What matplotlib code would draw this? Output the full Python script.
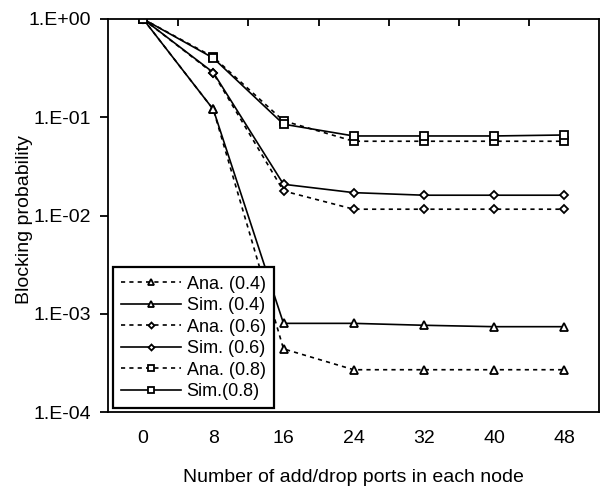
import matplotlib
matplotlib.use("Agg")
import matplotlib.pyplot as plt
import numpy as np

plt.rcParams['font.family'] = ['Liberation Sans', 'DejaVu Sans']

ports = [0, 8, 16, 24, 32, 40, 48]
ana_04 = [1.0, 0.12, 4.4e-4, 2.7e-4, 2.7e-4, 2.7e-4, 2.7e-4]
sim_04 = [1.0, 0.12, 8.0e-4, 8.0e-4, 7.65e-4, 7.4e-4, 7.4e-4]
ana_06 = [1.0, 0.28, 0.0178, 0.0116, 0.0116, 0.0116, 0.0116]
sim_06 = [1.0, 0.285, 0.0208, 0.0171, 0.0161, 0.0161, 0.0161]
ana_08 = [1.0, 0.41, 0.092, 0.057, 0.057, 0.057, 0.057]
sim_08 = [1.0, 0.40, 0.085, 0.0645, 0.0645, 0.0645, 0.066]
yticks = [1e0, 1e-1, 1e-2, 1e-3, 1e-4]
ytick_labels = ["1.E+00", "1.E-01", "1.E-02", "1.E-03", "1.E-04"]

fig = plt.figure(figsize=(6, 4.86), dpi=100)
ax = fig.add_axes([0.18, 0.152, 0.819, 0.809])
x = np.arange(len(ports))

dash = (0, (2.5, 2.5))
series = [
    (ana_04, dash, '^', 5.5, "Ana. (0.4)"),
    (sim_04, '-', '^', 5.5, "Sim. (0.4)"),
    (ana_06, dash, 'D', 4.3, "Ana. (0.6)"),
    (sim_06, '-', 'D', 4.3, "Sim. (0.6)"),
    (ana_08, dash, 's', 5.8, "Ana. (0.8)"),
    (sim_08, '-', 's', 5.8, "Sim.(0.8)"),
]
for vals, ls, mk, ms, lab in series:
    ax.plot(x, vals, linestyle=ls, color='black', lw=1.2, marker=mk,
            markersize=ms, markerfacecolor='white', markeredgecolor='black',
            markeredgewidth=1.3, label=lab)

ax.set_yscale('log')
ax.set_ylim(1e-4, 1e0)
ax.set_xlim(-0.5, len(ports) - 0.5)
ax.set_yticks(yticks)
ax.set_yticklabels(ytick_labels)
ax.yaxis.set_minor_locator(matplotlib.ticker.NullLocator())
ax.tick_params(axis='y', direction='out', length=5.5, width=1.3, labelsize=14, pad=6.5)

ax.set_xticks(x)
ax.set_xticklabels([str(p) for p in ports])
ax.tick_params(axis='x', length=0, labelsize=14, pad=13)
ax.set_xticks(np.arange(0.5, len(ports) - 0.5, 1.0), minor=True)
ax.tick_params(axis='x', which='minor', top=True, bottom=False, direction='in', length=5, width=1.3)

for s in ax.spines.values():
    s.set_linewidth(1.3)

ax.set_ylabel("Blocking probability", fontsize=14)
ax.yaxis.set_label_coords(-0.153, 0.49)
ax.set_xlabel("Number of add/drop ports in each node", fontsize=14, labelpad=16)

leg = ax.legend(loc='lower left', bbox_to_anchor=(0.01, 0.01), fontsize=13,
                frameon=True, fancybox=False, edgecolor='black', framealpha=1,
                handlelength=3.3, labelspacing=0.25, borderpad=0.45,
                handletextpad=0.33, borderaxespad=0.0, markerscale=0.7)
leg.get_frame().set_linewidth(1.6)

fig.savefig("out.png", dpi=100)
